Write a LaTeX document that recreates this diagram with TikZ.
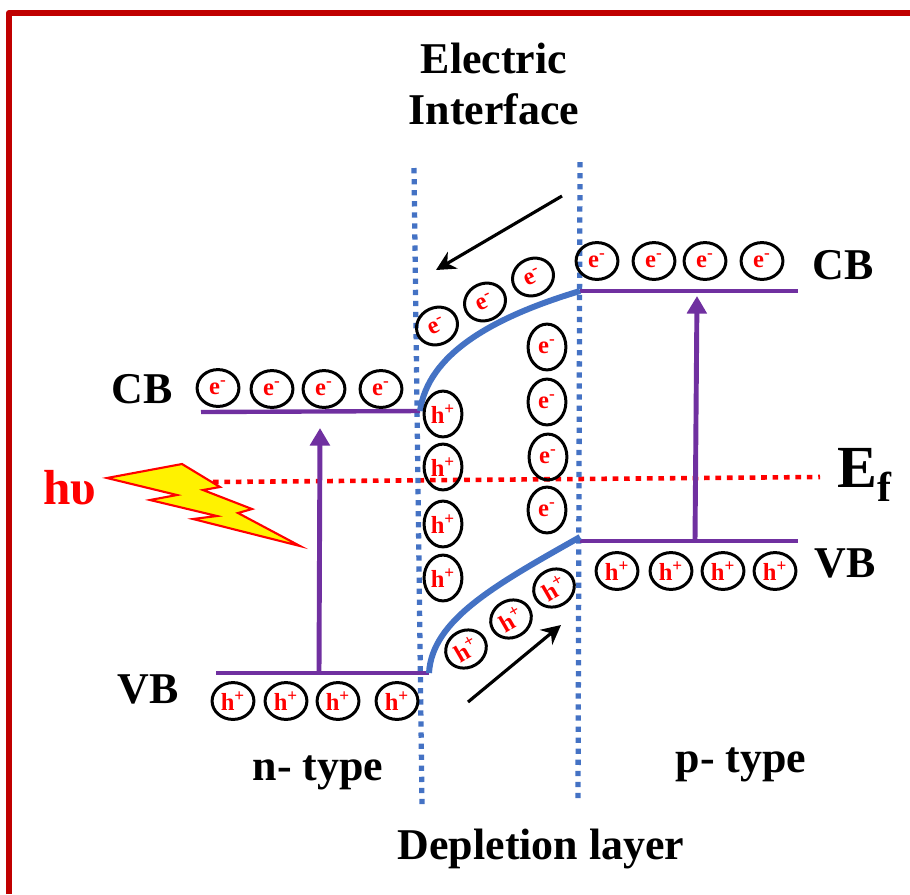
\documentclass[tikz,border=0pt]{standalone}
\usepackage{fontspec}
\setmainfont{Liberation Serif}
\usepackage{xcolor}
\usetikzlibrary{arrows.meta,shapes.geometric}
\definecolor{framered}{HTML}{C00000}
\definecolor{levelpurple}{HTML}{7030A0}
\definecolor{bandblue}{HTML}{4472C4}
\newcommand{\pxu}{*0.567pt}
\tikzset{
  carrier/.style={ellipse,draw=black,line width=1.7pt,inner sep=0pt,text=red,font=\bfseries\fontsize{14}{14}\selectfont},
  elec/.style={carrier,minimum width=42\pxu,minimum height=37\pxu},
  hole/.style={carrier,minimum width=42\pxu,minimum height=37\pxu},
  tall/.style={minimum width=38\pxu,minimum height=46\pxu},
  bandtext/.style={font=\bfseries\fontsize{25}{29.5}\selectfont,align=center,inner sep=0pt},
  level/.style={levelpurple,line width=2.5pt},
  lift/.style={levelpurple,line width=2.8pt,-{Triangle[length=10pt,width=11pt]}},
  junction/.style={bandblue,line width=3pt,dash pattern=on 3pt off 3.3pt},
  bandcurve/.style={bandblue,line width=3.4pt},
  drift/.style={black,line width=1.8pt,-{Stealth[length=11pt,width=11pt]}}
}
\begin{document}
\begin{tikzpicture}[x=0.02cm,y=-0.02cm]
  \useasboundingbox (0,0) rectangle (910,894);
  % frame
  \draw[framered,line width=3.4pt,line join=round] (9,894) -- (9,13) -- (910,13);
  % fermi level and junction lines
  \coordinate (fermiL) at (213,482);
  \coordinate (fermiR) at (820,477);
  \draw[red,line width=2.6pt,dash pattern=on 3.2pt off 3.3pt] (fermiL) -- (fermiR);
  \coordinate (leftT) at (414,168);
  \coordinate (leftB) at (422,805);
  \coordinate (rightT) at (580,162);
  \coordinate (rightB) at (578,800);
  \draw[junction] (leftT) -- (leftB);
  \draw[junction] (rightT) -- (rightB);
  % band levels
  \coordinate (cbLa) at (201,412);
  \coordinate (cbLb) at (420,411);
  \coordinate (cbRa) at (580,291);
  \coordinate (cbRb) at (798,291);
  \coordinate (vbLa) at (216,673);
  \coordinate (vbLb) at (429,673);
  \coordinate (vbRa) at (580,537);
  \coordinate (vbRb) at (798,541);
  \draw[level] (cbLa) -- (cbLb);
  \draw[level] (cbRa) -- (cbRb);
  \draw[level] (vbLa) -- (vbLb);
  \draw[level] (vbRa |- vbRb) -- (vbRb);
  \draw[bandcurve] (cbLb) .. controls (428,355) and (490,318) .. (cbRa);
  \draw[bandcurve] (vbLb) .. controls (432,620) and (495,585) .. (vbRa);
  % excitation arrows
  \coordinate (liftLa) at (319,673);
  \coordinate (liftLb) at (320,428);
  \coordinate (liftRa) at (695,541);
  \coordinate (liftRb) at (697,296);
  \draw[lift] (liftLa) -- (liftLb);
  \draw[lift] (liftRa) -- (liftRb);
  \coordinate (driftEa) at (562,196);
  \coordinate (driftEb) at (436,270);
  \coordinate (driftHa) at (468,702);
  \coordinate (driftHb) at (561,625);
  \draw[drift] (driftEa) -- (driftEb);
  \draw[drift] (driftHa) -- (driftHb);
  % light bolt
  \draw[red,fill=yellow,line width=1.2pt] (107,478) -- (182,464) -- (220,487) -- (203,490)
    -- (252,509) -- (238,513) -- (300,546) -- (193,519) -- (217,516) -- (150,500)
    -- (177,495) -- cycle;
  % carriers
  \foreach \x/\y [count=\i] in {218/388,272/389,324/389,381/389,597/261,654/261,705/261,762/261}
    \node[elec] (e\i) at (\x,\y) {e\textsuperscript{-}};
  \foreach \x/\y [count=\i] in {437/326,485/302,533/277}
    \node[elec,rotate=25] (ea\i) at (\x,\y) {e\textsuperscript{-}};
  \foreach \x/\y [count=\i] in {547/347,547/402,548/457,547/510}
    \node[elec,tall] (em\i) at (\x,\y) {e\textsuperscript{-}};
  \foreach \x/\y [count=\i] in {233/701,286/701,338/701,397/701,617/571,671/571,723/571,775/571}
    \node[hole] (h\i) at (\x,\y) {h\textsuperscript{+}};
  \foreach \x/\y [count=\i] in {443/414,443/467,443/524,443/578}
    \node[hole,tall] (hm\i) at (\x,\y) {h\textsuperscript{+}};
  \foreach \x/\y [count=\i] in {466/649,511/619,554/588}
    \node[hole,rotate=30] (ha\i) at (\x,\y) {h\textsuperscript{+}};
  % labels
  \node[bandtext] (iface) at (494,84) {Electric\\Interface};
  \node[bandtext] (cbL) at (142,389) {CB};
  \node[bandtext] (cbR) at (843,265) {CB};
  \node[bandtext] (vbL) at (148,689) {VB};
  \node[bandtext] (vbR) at (845,563) {VB};
  \node[bandtext] (ntype) at (318,773) {n- type};
  \node[bandtext] (ptype) at (741,765) {p- type};
  \node[bandtext] (deplete) at (541,849) {Depletion layer};
  \node[bandtext,font=\bfseries\fontsize{34}{34}\selectfont] (ef) at (865,475) {E\textsubscript{f}};
  \node[bandtext,text=red,font=\bfseries\fontsize{28}{28}\selectfont] (hv) at (70,488) {hυ};
\end{tikzpicture}
\end{document}
